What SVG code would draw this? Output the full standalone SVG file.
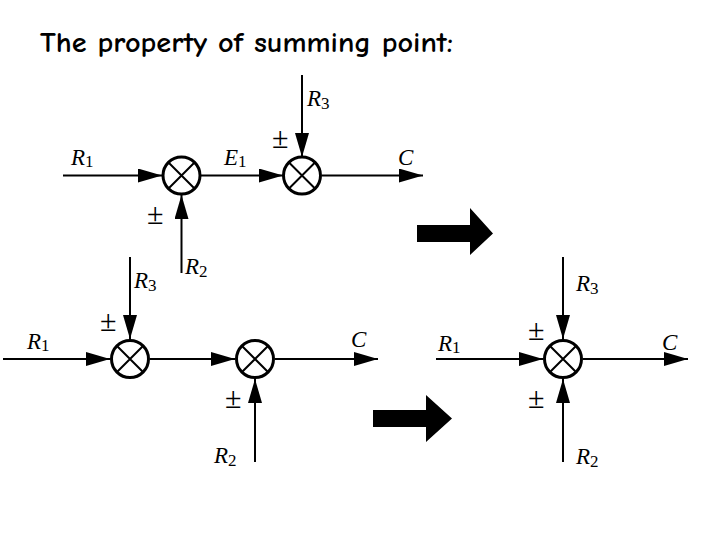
<svg xmlns="http://www.w3.org/2000/svg" width="720" height="540" viewBox="0 0 720 540">
<defs>
<style>
.ln{stroke:#000;stroke-width:2;fill:none}
.sum circle{fill:#fff;stroke:#000;stroke-width:3}
.sum path{stroke:#000;stroke-width:2;fill:none}
.lb{font-family:"Liberation Serif","Times New Roman",serif;font-size:23px;fill:#000}
.lb .v{font-style:italic}
.lb .s{font-size:17px}
.pm{font-family:"Liberation Serif","Times New Roman",serif;font-size:30px;fill:#000}
.title{font-family:"Comic Sans MS","Comic Neue","DejaVu Sans",sans-serif;font-size:28px;font-weight:bold;fill:#000}
.big{fill:#000}
</style>
<marker id="ah" markerUnits="userSpaceOnUse" markerWidth="26" markerHeight="16" refX="24" refY="7" orient="auto">
<path d="M0,0 L24,7 L0,14 z" fill="#000"/>
</marker>
</defs>
<rect width="720" height="540" fill="#fff"/>
<text class="title" x="40" y="52" textLength="413" lengthAdjust="spacingAndGlyphs">The property of summing point:</text>

<g id="connectors">
<line class="ln" x1="63" y1="175.5" x2="162" y2="175.5" marker-end="url(#ah)"/>
<line class="ln" x1="201" y1="175.5" x2="283" y2="175.5" marker-end="url(#ah)"/>
<line class="ln" x1="322" y1="175.5" x2="423" y2="175.5" marker-end="url(#ah)"/>
<line class="ln" x1="302" y1="75" x2="302" y2="157" marker-end="url(#ah)"/>
<line class="ln" x1="181.5" y1="273" x2="181.5" y2="195" marker-end="url(#ah)"/>
<line class="ln" x1="3" y1="359" x2="110" y2="359" marker-end="url(#ah)"/>
<line class="ln" x1="150" y1="359" x2="235" y2="359" marker-end="url(#ah)"/>
<line class="ln" x1="275" y1="359" x2="378" y2="359" marker-end="url(#ah)"/>
<line class="ln" x1="130" y1="257" x2="130" y2="339" marker-end="url(#ah)"/>
<line class="ln" x1="255" y1="462" x2="255" y2="379" marker-end="url(#ah)"/>
<line class="ln" x1="436" y1="359" x2="543" y2="359" marker-end="url(#ah)"/>
<line class="ln" x1="583" y1="359" x2="688" y2="359" marker-end="url(#ah)"/>
<line class="ln" x1="563" y1="257" x2="563" y2="339" marker-end="url(#ah)"/>
<line class="ln" x1="563" y1="462" x2="563" y2="379" marker-end="url(#ah)"/>
<path class="big" d="M417,225 H470 V208 L493,233.5 L470,255 V242 H417 z"/>
<path class="big" d="M373,410 H426 V395 L452,418.5 L426,442 V427 H373 z"/>
</g>

<g id="sum1" class="sum"><circle cx="181.5" cy="175.5" r="18.5"/><path d="M168.5,162.5 L194.5,188.5 M194.5,162.5 L168.5,188.5"/></g>
<g id="sum2" class="sum"><circle cx="302" cy="175.5" r="18.5"/><path d="M289,162.5 L315,188.5 M315,162.5 L289,188.5"/></g>
<g id="sum3" class="sum"><circle cx="130" cy="359" r="18.5"/><path d="M117,346 L143,372 M143,346 L117,372"/></g>
<g id="sum4" class="sum"><circle cx="255" cy="359" r="18.5"/><path d="M242,346 L268,372 M268,346 L242,372"/></g>
<g id="sum5" class="sum"><circle cx="563" cy="359" r="18.5"/><path d="M550,346 L576,372 M576,346 L550,372"/></g>

<g id="labels">
<text class="lb" x="71" y="165"><tspan class="v">R</tspan><tspan class="s" dy="2">1</tspan></text>
<text class="lb" x="224" y="165"><tspan class="v">E</tspan><tspan class="s" dy="2">1</tspan></text>
<text class="lb" x="398" y="165" font-style="italic">C</text>
<text class="lb" x="307" y="106"><tspan class="v">R</tspan><tspan class="s" dy="3">3</tspan></text>
<text class="lb" x="185" y="274"><tspan class="v">R</tspan><tspan class="s" dy="3">2</tspan></text>
<text class="pm" x="272" y="148">±</text>
<text class="pm" x="147" y="224">±</text>

<text class="lb" x="27" y="349"><tspan class="v">R</tspan><tspan class="s" dy="2">1</tspan></text>
<text class="lb" x="134" y="288"><tspan class="v">R</tspan><tspan class="s" dy="3">3</tspan></text>
<text class="lb" x="351" y="347" font-style="italic">C</text>
<text class="lb" x="214" y="463"><tspan class="v">R</tspan><tspan class="s" dy="3">2</tspan></text>
<text class="pm" x="100" y="331">±</text>
<text class="pm" x="225" y="408">±</text>

<text class="lb" x="438" y="351"><tspan class="v">R</tspan><tspan class="s" dy="2">1</tspan></text>
<text class="lb" x="576" y="291"><tspan class="v">R</tspan><tspan class="s" dy="3">3</tspan></text>
<text class="lb" x="662" y="350" font-style="italic">C</text>
<text class="lb" x="576" y="464"><tspan class="v">R</tspan><tspan class="s" dy="3">2</tspan></text>
<text class="pm" x="528" y="340">±</text>
<text class="pm" x="528" y="408">±</text>
</g>
</svg>
